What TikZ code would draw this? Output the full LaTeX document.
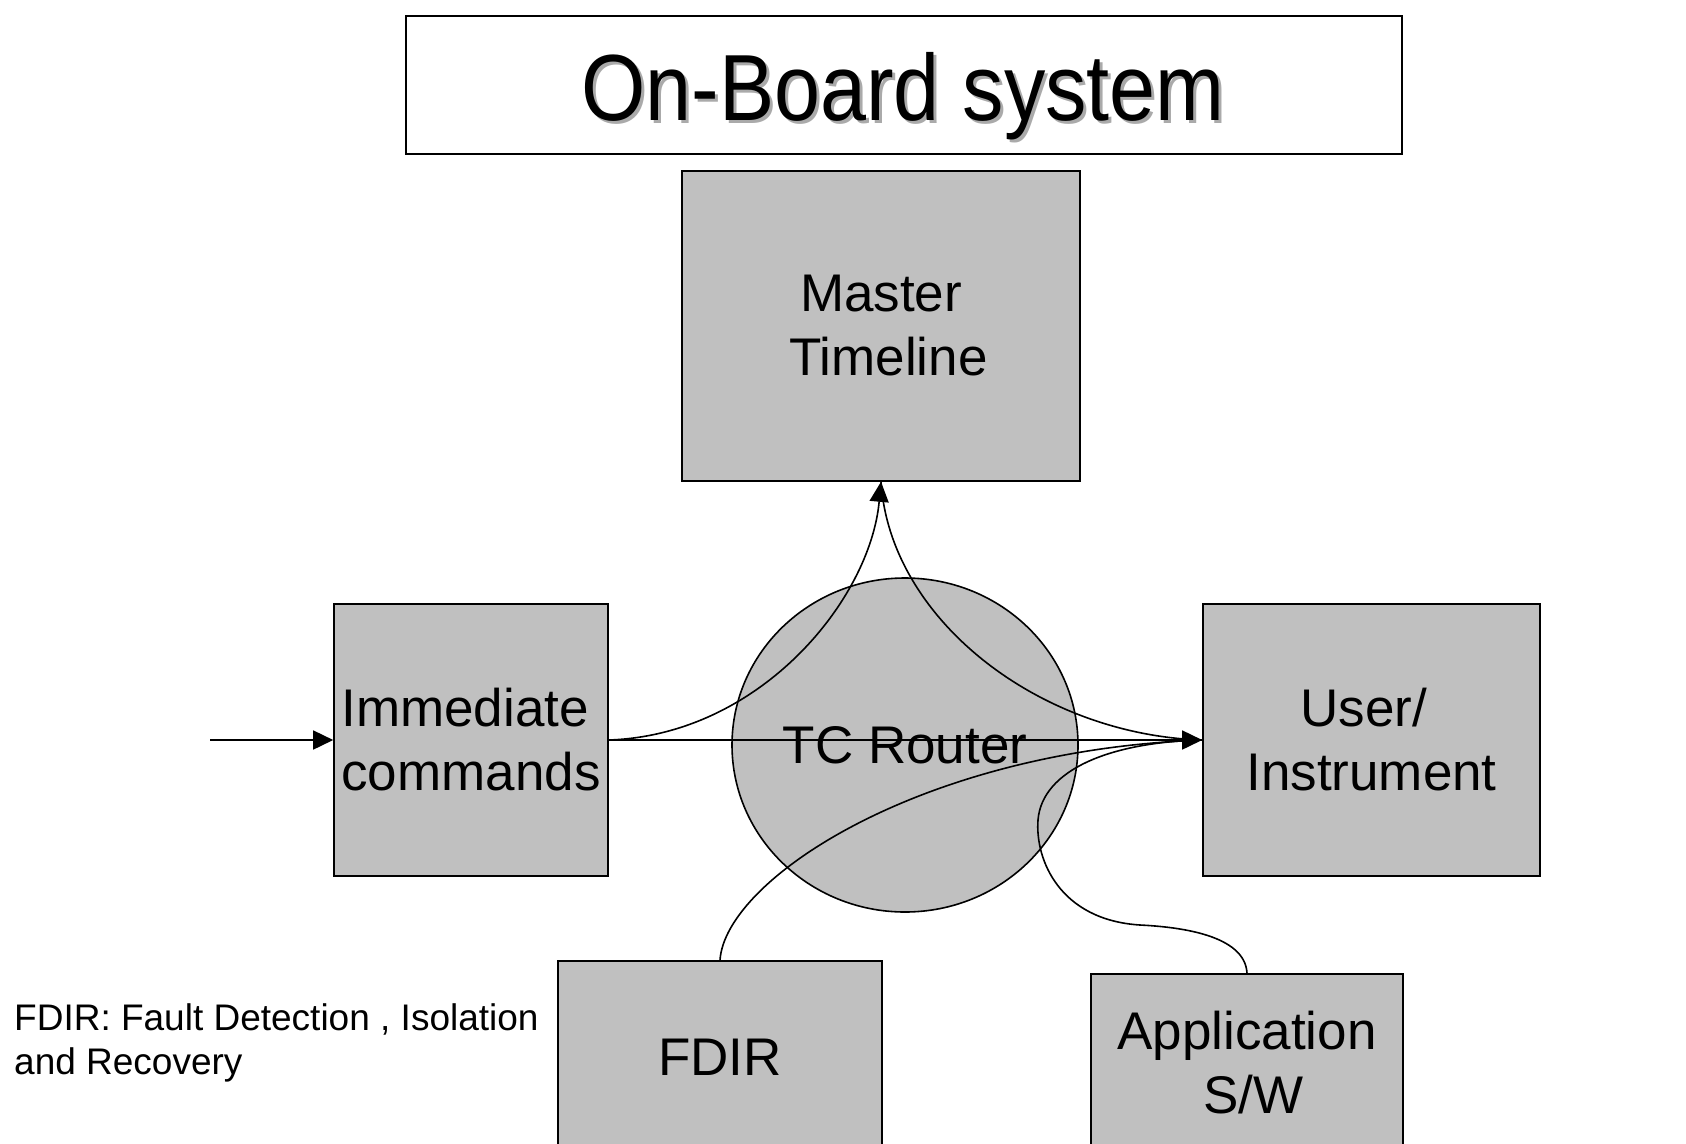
\documentclass[tikz,border=0pt]{standalone}
\usepackage{fontspec}
\setmainfont{Liberation Sans}
\newfontfamily\titlefont[FakeStretch=0.88]{Liberation Sans}
\usetikzlibrary{arrows.meta,shapes.geometric}
\definecolor{boxgray}{RGB}{192,192,192}
\definecolor{shadowgray}{RGB}{170,170,170}

\begin{document}
\begin{tikzpicture}[x=1pt,y=-1pt,
  box/.style={draw,line width=1.6pt,fill=boxgray,inner sep=0pt,align=center,
              font=\fontsize{53}{64}\selectfont},
  link/.style={line width=1.6pt},
  tip/.style={-{Triangle[length=20pt,width=19pt]}},
  titletext/.style={inner sep=0pt,font=\titlefont\fontsize{94}{100}\selectfont}]

  \path[use as bounding box] (0,0) rectangle (1686,1143);
  \clip (0,0) rectangle (1686,1143);

  % title banner with shadowed lettering
  \node[draw,line width=1.6pt,minimum width=996pt,minimum height=138pt,inner sep=0pt]
    (title) at (904,85) {};
  \node[titletext,text=shadowgray] (titleshadow) at (906,99) {On-Board system};
  \node[titletext] (titletxt) at (903,96) {On-Board system};

  % blocks
  \node[box,minimum width=398pt,minimum height=310pt] (master) at (881,326)
    {Master\\\hspace*{15pt}Timeline};
  \node[box,align=left,minimum width=274pt,minimum height=272pt] (imm) at (471,740)
    {Immediate\\commands};
  \node[box,ellipse,minimum width=346pt,minimum height=334pt] (router) at (905,745) {TC Router};
  \node[box,minimum width=337pt,minimum height=272pt] (user) at (1371.5,740)
    {User/\hspace*{15pt}\\Instrument};
  \node[box,minimum width=324pt,minimum height=192pt] (fdir) at (720,1057) {FDIR};
  \node[box,minimum width=312pt,minimum height=178pt] (app) at (1247,1063)
    {Application\\\hspace*{13pt}S/W};

  % legend
  \node[anchor=west,align=left,inner sep=0pt,font=\fontsize{37}{44}\selectfont]
    (legend) at (14,1043) {FDIR: Fault Detection , Isolation\\and Recovery};

  % incoming telecommands
  \coordinate (in) at (210,740);
  \draw[link,tip] (in) -- (imm.west);

  % routes through the TC router
  \draw[link,tip] (imm.east) .. controls (760,735) and (870,600) .. (master.south);
  \draw[link] (master.south) .. controls (890,620) and (1040,735) .. (user.west);
  \draw[link,tip] (imm.east) -- (user.west);
  \draw[link] (fdir.north) .. controls (725,880) and (920,750) .. (user.west);
  \draw[link] (app.north) .. controls (1245,935) and (1180,927) .. (1140,925)
                          .. controls (1060,920) and (1035,860) .. (1038,820)
                          .. controls (1042,770) and (1110,742) .. (user.west);
\end{tikzpicture}
\end{document}
